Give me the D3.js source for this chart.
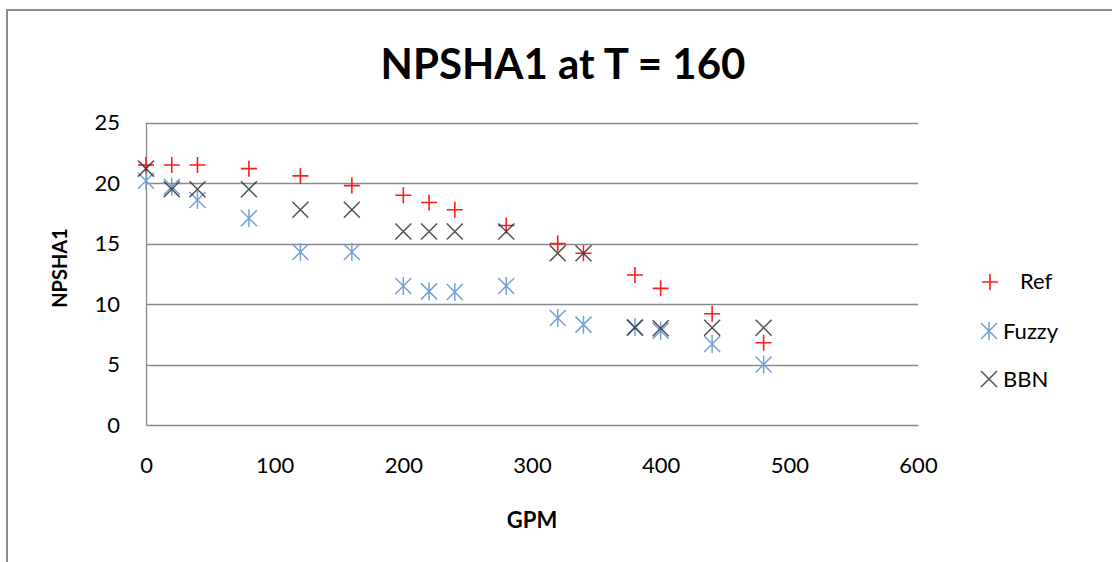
<!DOCTYPE html>
<html>
<head>
<meta charset="utf-8">
<script src="https://cdn.jsdelivr.net/npm/d3@7"></script>
<style>
  html, body { margin: 0; padding: 0; background: #fff; }
  svg { display: block; }
  text { font-family: Lato, "Open Sans", sans-serif; fill: #000; }
</style>
</head>
<body>
<svg id="chart" width="1112" height="562"></svg>
<script>
// Flow rates (GPM) at which NPSHA1 was evaluated
const gpm = [0, 20, 40, 80, 120, 160, 200, 220, 240, 280, 320, 340, 380, 400, 440, 480];
// NPSHA1 values per method
const refValues   = [21.5, 21.5, 21.5, 21.2, 20.6, 19.8, 19.0, 18.4, 17.8, 16.5, 15.0, 14.2, 12.4, 11.3, 9.2, 6.8];
const fuzzyValues = [20.2, 19.7, 18.6, 17.1, 14.3, 14.3, 11.5, 11.05, 11.0, 11.5, 8.85, 8.3, 8.1, 7.8, 6.7, 5.0];
const bbnValues   = [21.2, 19.5, 19.5, 19.5, 17.8, 17.8, 16.0, 16.0, 16.0, 16.0, 14.2, 14.2, 8.05, 8.0, 8.05, 8.05];
const xTicks = [0, 100, 200, 300, 400, 500, 600];
const yTicks = [0, 5, 10, 15, 20, 25];
const seriesNames = ["Ref", "Fuzzy", "BBN"];

const svg = d3.select("#chart");

// Outer chart frame (runs off the right and bottom edges)
svg.append("path")
  .attr("d", "M7,600 L7,10 L1200,10")
  .attr("fill", "none").attr("stroke", "#8c8c8c").attr("stroke-width", 2);

const x = d3.scaleLinear().domain([0, 600]).range([146, 918]);
const y = d3.scaleLinear().domain([0, 25]).range([425, 122.7]);

// Horizontal gridlines
svg.append("g").selectAll("line").data(yTicks.filter(d => d > 0)).join("line")
  .attr("x1", x(0)).attr("x2", x(600))
  .attr("y1", d => Math.round(y(d)) + 0.5).attr("y2", d => Math.round(y(d)) + 0.5)
  .attr("stroke", "#8a8a8a").attr("stroke-width", 1.3);

// Axes via d3 axis generators, styled as plain lines with labels
const yAxis = svg.append("g").attr("transform", `translate(${x(0)},0)`)
  .call(d3.axisLeft(y).tickValues(yTicks).tickSize(0).tickPadding(26));
const xAxis = svg.append("g").attr("transform", `translate(0,${y(0)})`)
  .call(d3.axisBottom(x).tickValues(xTicks).tickSize(0).tickPadding(32));
[yAxis, xAxis].forEach(g => {
  g.select(".domain").attr("stroke", "#8a8a8a").attr("stroke-width", 1.3);
  g.selectAll("text").attr("font-size", 22).attr("font-family", "Lato, sans-serif").attr("fill", "#000");
});

// Title and axis titles
svg.append("text").attr("x", 563).attr("y", 79).attr("text-anchor", "middle")
  .attr("font-size", 42).attr("font-weight", "bold").text("NPSHA1 at T = 160");
svg.append("text").attr("x", 532).attr("y", 528).attr("text-anchor", "middle")
  .attr("font-size", 22).attr("font-weight", "bold").text("GPM");
svg.append("text").attr("transform", "translate(67,268) rotate(-90)").attr("text-anchor", "middle")
  .attr("font-size", 20).attr("font-weight", "bold").text("NPSHA1");

// Marker shapes
const h = 8;
const plusPath = `M${-h},0 L${h},0 M0,${-h} L0,${h}`;
const xPath = `M${-h},${-h} L${h},${h} M${-h},${h} L${h},${-h}`;
const starPath = `M${-h},${-h} L${h},${h} M${-h},${h} L${h},${-h} M0,${-h-1} L0,${h+1}`;

const series = [
  { name: seriesNames[0], values: refValues,   path: plusPath, color: "#ff1a1a", opacity: 1,    width: 1.6 },
  { name: seriesNames[1], values: fuzzyValues, path: starPath, color: "#6f9ad3", opacity: 0.95, width: 1.5 },
  { name: seriesNames[2], values: bbnValues,   path: xPath,    color: "#333333", opacity: 0.85, width: 1.5 }
];

series.forEach(s => {
  svg.append("g").selectAll("path").data(gpm.map((g, i) => [g, s.values[i]])).join("path")
    .attr("transform", d => `translate(${x(d[0])},${y(d[1])})`)
    .attr("d", s.path).attr("fill", "none")
    .attr("stroke", s.color).attr("stroke-width", s.width).attr("stroke-opacity", s.opacity);
});

// Legend
const legendPos = [
  { mx: 990, my: 282, tx: 1020, ty: 289 },
  { mx: 989, my: 331, tx: 1003, ty: 339 },
  { mx: 989, my: 379, tx: 1003, ty: 387 }
];
series.forEach((s, i) => {
  const p = legendPos[i];
  svg.append("path").attr("transform", `translate(${p.mx},${p.my})`)
    .attr("d", s.path).attr("fill", "none")
    .attr("stroke", s.color).attr("stroke-width", s.width).attr("stroke-opacity", s.opacity);
  svg.append("text").attr("x", p.tx).attr("y", p.ty).attr("font-size", 22).text(s.name);
});
</script>
</body>
</html>
